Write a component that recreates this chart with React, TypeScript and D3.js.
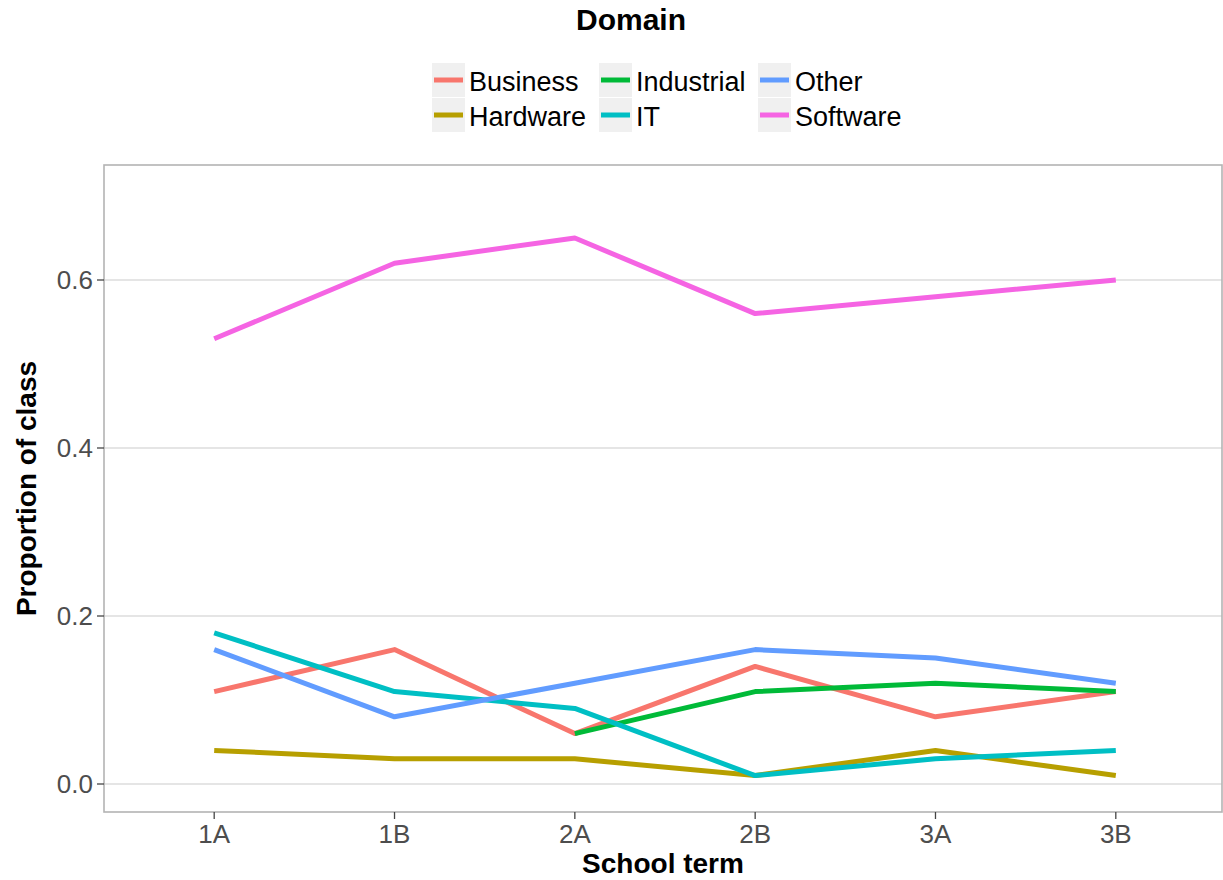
import React from "react";
import * as d3 from "d3";

const terms = ["1A", "1B", "2A", "2B", "3A", "3B"];
const domains = ["Business", "Hardware", "Industrial", "IT", "Other", "Software"];
const colors = ["#F8766D", "#B79F00", "#00BA38", "#00BFC4", "#619CFF", "#F564E3"];

const business = [0.11, 0.16, 0.06, 0.14, 0.08, 0.11];
const hardware = [0.04, 0.03, 0.03, 0.01, 0.04, 0.01];
const industrial = [null, null, 0.06, 0.11, 0.12, 0.11];
const it = [0.18, 0.11, 0.09, 0.01, 0.03, 0.04];
const other = [0.16, 0.08, 0.12, 0.16, 0.15, 0.12];
const software = [0.53, 0.62, 0.65, 0.56, 0.58, 0.6];

const series = [business, hardware, industrial, it, other, software];
const yTicks = [0, 0.2, 0.4, 0.6];

const W = 1223, H = 880;
const L = 104, R = 1222, T = 165, B = 812;

export default function App() {
  const x = d3.scalePoint<string>().domain(terms).range([L + 2, R + 2]).padding(0.6);
  const y = d3.scaleLinear().domain([0, 0.6]).range([784, 280]);
  const line = d3
    .line<number | null>()
    .defined((d) => d != null)
    .x((_, i) => x(terms[i]) as number)
    .y((d) => y(d as number));

  const font = "'Liberation Sans', Arial, Helvetica, sans-serif";
  const legendCols = [432, 599, 758];
  const legendRows = [63, 98];
  const legendOrder = [
    [0, 0, 0], [1, 0, 1], [2, 1, 0], [3, 1, 1], [4, 2, 0], [5, 2, 1],
  ];

  return (
    <svg width={W} height={H} style={{ position: "absolute", left: 0, top: 0, background: "#fff" }} fontFamily={font}>
      <rect x={0} y={0} width={W} height={H} fill="#fff" />
      {/* grid */}
      {yTicks.map((t) => (
        <line key={t} x1={L} x2={R} y1={y(t)} y2={y(t)} stroke="#dcdcdc" strokeWidth={1.4} />
      ))}
      {/* series */}
      {series.map((s, i) => (
        <path key={domains[i]} d={line(s as (number | null)[]) || ""} fill="none" stroke={colors[i]} strokeWidth={5} strokeLinejoin="round" />
      ))}
      {/* panel border */}
      <rect x={L} y={T} width={R - L} height={B - T} fill="none" stroke="#b3b3b3" strokeWidth={1.6} />
      {/* y axis */}
      {yTicks.map((t) => (
        <g key={t}>
          <line x1={L - 7} x2={L} y1={y(t)} y2={y(t)} stroke="#444" strokeWidth={1.3} />
          <text x={L - 11} y={y(t)} dy="0.36em" textAnchor="end" fontSize={26} fill="#4d4d4d">
            {d3.format(".1f")(t)}
          </text>
        </g>
      ))}
      {/* x axis */}
      {terms.map((t) => (
        <g key={t}>
          <line x1={x(t)} x2={x(t)} y1={B} y2={B + 7} stroke="#444" strokeWidth={1.3} />
          <text x={x(t)} y={843} textAnchor="middle" fontSize={26} fill="#4d4d4d">
            {t}
          </text>
        </g>
      ))}
      <text x={(L + R) / 2} y={873} textAnchor="middle" fontSize={28} fontWeight="bold" fill="#000">
        School term
      </text>
      <text transform={`translate(36,${(T + B) / 2}) rotate(-90)`} textAnchor="middle" fontSize={28} fontWeight="bold" fill="#000">
        Proportion of class
      </text>
      {/* legend */}
      <text x={631} y={30} textAnchor="middle" fontSize={30} fontWeight="bold" fill="#000">
        Domain
      </text>
      {legendOrder.map(([i, c, r]) => {
        const kx = legendCols[c];
        const ky = legendRows[r];
        return (
          <g key={domains[i]}>
            <rect x={kx} y={ky} width={33} height={34} fill="#f0f0f0" />
            <line x1={kx + 2} x2={kx + 31} y1={ky + 17} y2={ky + 17} stroke={colors[i]} strokeWidth={5} />
            <text x={kx + 37} y={ky + 18} dy="0.36em" fontSize={27} fill="#000">
              {domains[i]}
            </text>
          </g>
        );
      })}
    </svg>
  );
}
